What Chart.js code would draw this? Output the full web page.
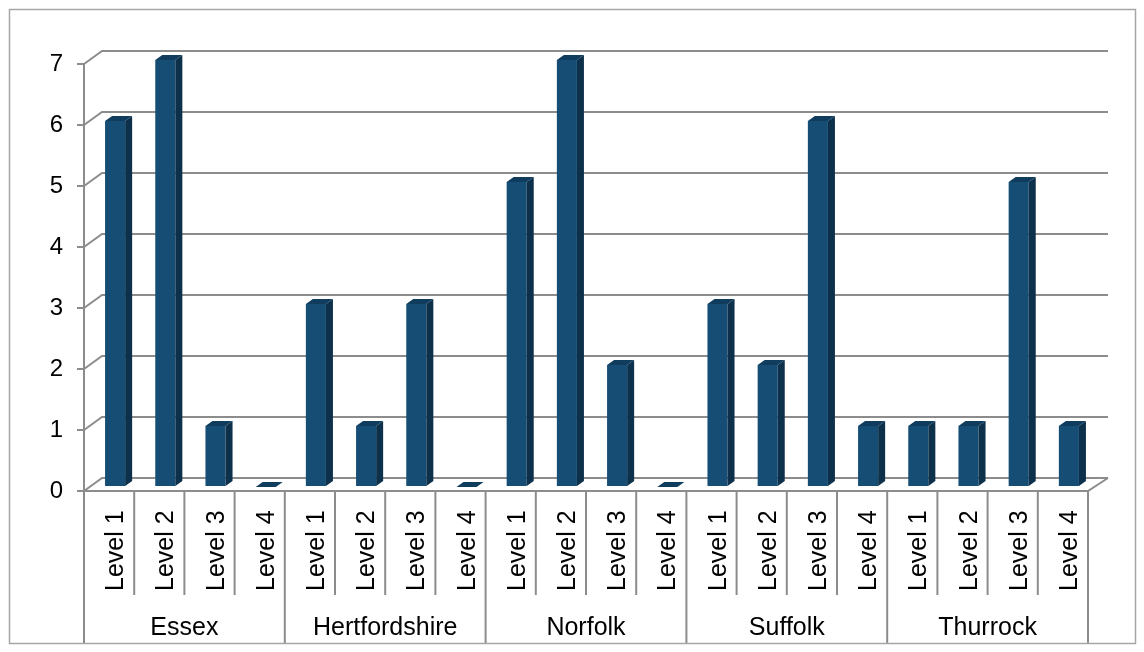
<!DOCTYPE html>
<html>
<head>
<meta charset="utf-8">
<script src="https://cdn.jsdelivr.net/npm/chart.js@4/dist/chart.umd.min.js"></script>
<style>
  html, body { margin: 0; padding: 0; background: #fff; }
  #wrap { width: 1144px; height: 652px; }
</style>
</head>
<body>
<div id="wrap"><canvas id="levels_chart"></canvas></div>
<script>
const counties = ['Essex', 'Hertfordshire', 'Norfolk', 'Suffolk', 'Thurrock']
const levels = ['Level 1', 'Level 2', 'Level 3', 'Level 4']
const essex = [6, 7, 1, 0]
const hertfordshire = [3, 1, 3, 0]
const norfolk = [5, 7, 2, 0]
const suffolk = [3, 2, 6, 1]
const thurrock = [1, 1, 5, 1]
const yTicks = [0, 1, 2, 3, 4, 5, 6, 7]

const labels = counties.flatMap(() => levels)
const values = [...essex, ...hertfordshire, ...norfolk, ...suffolk, ...thurrock]

const GRID = '#8c8c8c'
const FONT = '"Liberation Sans", Arial, sans-serif'
// 3d look: bars sit a bit behind the front axis plane, back wall further back
const BAR_DX = 6, BAR_DY = -4
const DEPTH_X = 7, DEPTH_Y = -5
const WALL_DX = 18, WALL_DY = -13

const chart3d = {
  id: 'chart3d',
  beforeDatasetsDraw(chart) {
    const { ctx, chartArea: a, scales: { y } } = chart
    ctx.save()
    ctx.strokeStyle = GRID
    ctx.lineWidth = 2
    yTicks.forEach((v) => {
      const py = y.getPixelForValue(v)
      ctx.beginPath()
      ctx.moveTo(a.left, py)
      ctx.lineTo(a.left + WALL_DX, py + WALL_DY)
      ctx.lineTo(a.right + WALL_DX + 2, py + WALL_DY)
      ctx.stroke()
    })
    const py0 = y.getPixelForValue(0)
    ctx.beginPath()
    ctx.moveTo(a.left, py0)
    ctx.lineTo(a.right, py0)
    ctx.lineTo(a.right + WALL_DX + 2, py0 + WALL_DY)
    ctx.stroke()
    ctx.restore()

    ctx.save()
    ctx.translate(BAR_DX, BAR_DY)
  },
  afterDatasetsDraw(chart) {
    const { ctx } = chart
    ctx.restore()
    const meta = chart.getDatasetMeta(0)
    ctx.save()
    meta.data.forEach((bar) => {
      const { x, y, base, width } = bar.getProps(['x', 'y', 'base', 'width'], true)
      const L = x - width / 2 + BAR_DX
      const R = x + width / 2 + BAR_DX
      const top = y + BAR_DY
      const bot = base + BAR_DY
      // side
      ctx.fillStyle = '#0d314b'
      ctx.beginPath()
      ctx.moveTo(R, top)
      ctx.lineTo(R + DEPTH_X, top + DEPTH_Y)
      ctx.lineTo(R + DEPTH_X, bot + DEPTH_Y)
      ctx.lineTo(R, bot)
      ctx.closePath()
      ctx.fill()
      // top
      ctx.fillStyle = '#103d5e'
      ctx.beginPath()
      ctx.moveTo(L, top)
      ctx.lineTo(L + DEPTH_X, top + DEPTH_Y)
      ctx.lineTo(R + DEPTH_X, top + DEPTH_Y)
      ctx.lineTo(R, top)
      ctx.closePath()
      ctx.fill()
    })
    ctx.restore()
  },
  afterDraw(chart) {
    const { ctx, scales: { x, y } } = chart
    const py0 = y.getPixelForValue(0)
    ctx.save()
    ctx.strokeStyle = GRID
    ctx.lineWidth = 2
    for (let i = 0; i <= labels.length; i++) {
      const bx = x.getPixelForValue(i - 0.5)
      ctx.beginPath()
      ctx.moveTo(bx, py0)
      ctx.lineTo(bx, i % levels.length === 0 ? 643 : 595)
      ctx.stroke()
    }
    ctx.fillStyle = '#000'
    ctx.font = '25px ' + FONT
    ctx.textBaseline = 'alphabetic'
    ctx.textAlign = 'left'
    labels.forEach((lab, i) => {
      ctx.save()
      ctx.translate(x.getPixelForValue(i) + 14, 591)
      ctx.rotate(-Math.PI / 2)
      ctx.fillText(lab, 0, 0)
      ctx.restore()
    })
    ctx.textAlign = 'center'
    counties.forEach((c, i) => {
      const cx = (x.getPixelForValue(i * 4 - 0.5) + x.getPixelForValue(i * 4 + 3.5)) / 2
      ctx.fillText(c, cx, 635)
    })
    // outer frame
    ctx.strokeStyle = '#a6a6a6'
    ctx.lineWidth = 1.5
    ctx.strokeRect(9.5, 9.5, 1126, 634)
    ctx.restore()
  },
}

new Chart(document.getElementById('levels_chart').getContext('2d'), {
  type: 'bar',
  data: {
    labels: labels,
    datasets: [
      {
        label: 'Count',
        data: values,
        backgroundColor: '#164d75',
        categoryPercentage: 1,
        barPercentage: 0.4,
      },
    ],
  },
  options: {
    responsive: true,
    maintainAspectRatio: false,
    animation: false,
    layout: { padding: { left: 24, top: 64, right: 56, bottom: 161 } },
    plugins: {
      legend: { display: false },
      tooltip: { enabled: false },
    },
    scales: {
      x: { display: false, offset: true },
      y: {
        min: 0,
        max: 7,
        afterFit: (scale) => { scale.width = 60 },
        ticks: {
          stepSize: 1,
          color: '#000',
          padding: 14,
          font: { size: 24, family: FONT },
        },
        grid: { drawOnChartArea: false, tickLength: 7, color: GRID, lineWidth: 2 },
        border: { color: GRID, width: 2 },
      },
    },
  },
  plugins: [chart3d],
})
</script>
</body>
</html>
